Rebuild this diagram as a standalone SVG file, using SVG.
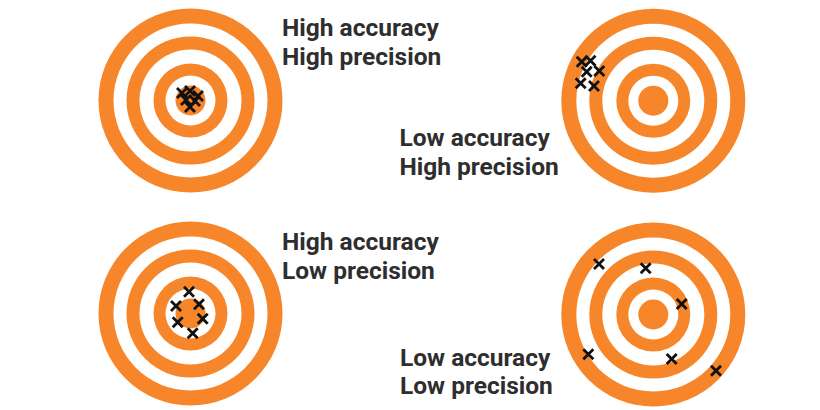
<svg xmlns="http://www.w3.org/2000/svg" xmlns:xlink="http://www.w3.org/1999/xlink" width="820" height="410" viewBox="0 0 820 410">
<style>
.o{fill:#F68629}
.w{fill:#FFFFFF}
.t{font-family:Roboto,"Liberation Sans",sans-serif;font-weight:bold;font-size:24.5px;fill:#2E2E2E}
.x{stroke:#111;stroke-width:2.8;stroke-linecap:butt;fill:none}
</style>
<defs>
<g id="target">
<circle class="o" r="92"/>
<circle class="w" r="77"/>
<circle class="o" r="64"/>
<circle class="w" r="51"/>
<circle class="o" r="37"/>
<circle class="w" r="25"/>
<circle class="o" r="15"/>
</g>
<path id="xm" class="x" d="M-5,-5L5,5M5,-5L-5,5"/>
</defs>
<rect width="820" height="410" fill="#FFFFFF"/>
<g id="t1">
<use xlink:href="#target" x="190.5" y="100.5"/>
<use xlink:href="#xm" x="182" y="93"/>
<use xlink:href="#xm" x="190" y="91"/>
<use xlink:href="#xm" x="198" y="96"/>
<use xlink:href="#xm" x="186" y="100"/>
<use xlink:href="#xm" x="195" y="101"/>
<use xlink:href="#xm" x="190" y="107"/>
<text class="t" x="282" y="36">High accuracy</text>
<text class="t" x="282" y="64.5">High precision</text>
</g>
<g id="t2">
<use xlink:href="#target" x="653.3" y="100.7"/>
<use xlink:href="#xm" x="581.7" y="61.7"/>
<use xlink:href="#xm" x="590.5" y="60.7"/>
<use xlink:href="#xm" x="586.7" y="71.7"/>
<use xlink:href="#xm" x="599.3" y="71"/>
<use xlink:href="#xm" x="580.7" y="83.3"/>
<use xlink:href="#xm" x="594" y="86"/>
<text class="t" x="399.5" y="146">Low accuracy</text>
<text class="t" x="399.5" y="174.5">High precision</text>
</g>
<g id="t3">
<use xlink:href="#target" x="190.5" y="313.5"/>
<use xlink:href="#xm" x="189" y="291.7"/>
<use xlink:href="#xm" x="176" y="306"/>
<use xlink:href="#xm" x="199" y="304.3"/>
<use xlink:href="#xm" x="177.7" y="322.3"/>
<use xlink:href="#xm" x="202.7" y="318.7"/>
<use xlink:href="#xm" x="192.7" y="333.3"/>
<text class="t" x="282" y="249.5">High accuracy</text>
<text class="t" x="282" y="278.5">Low precision</text>
</g>
<g id="t4">
<use xlink:href="#target" x="653.3" y="314.5"/>
<use xlink:href="#xm" x="599" y="264"/>
<use xlink:href="#xm" x="645.7" y="268.3"/>
<use xlink:href="#xm" x="681.7" y="304"/>
<use xlink:href="#xm" x="588.3" y="354.3"/>
<use xlink:href="#xm" x="671.7" y="359"/>
<use xlink:href="#xm" x="716" y="370.7"/>
<text class="t" x="400" y="365.5">Low accuracy</text>
<text class="t" x="400" y="394">Low precision</text>
</g>
<g id="connectors"></g>
</svg>
